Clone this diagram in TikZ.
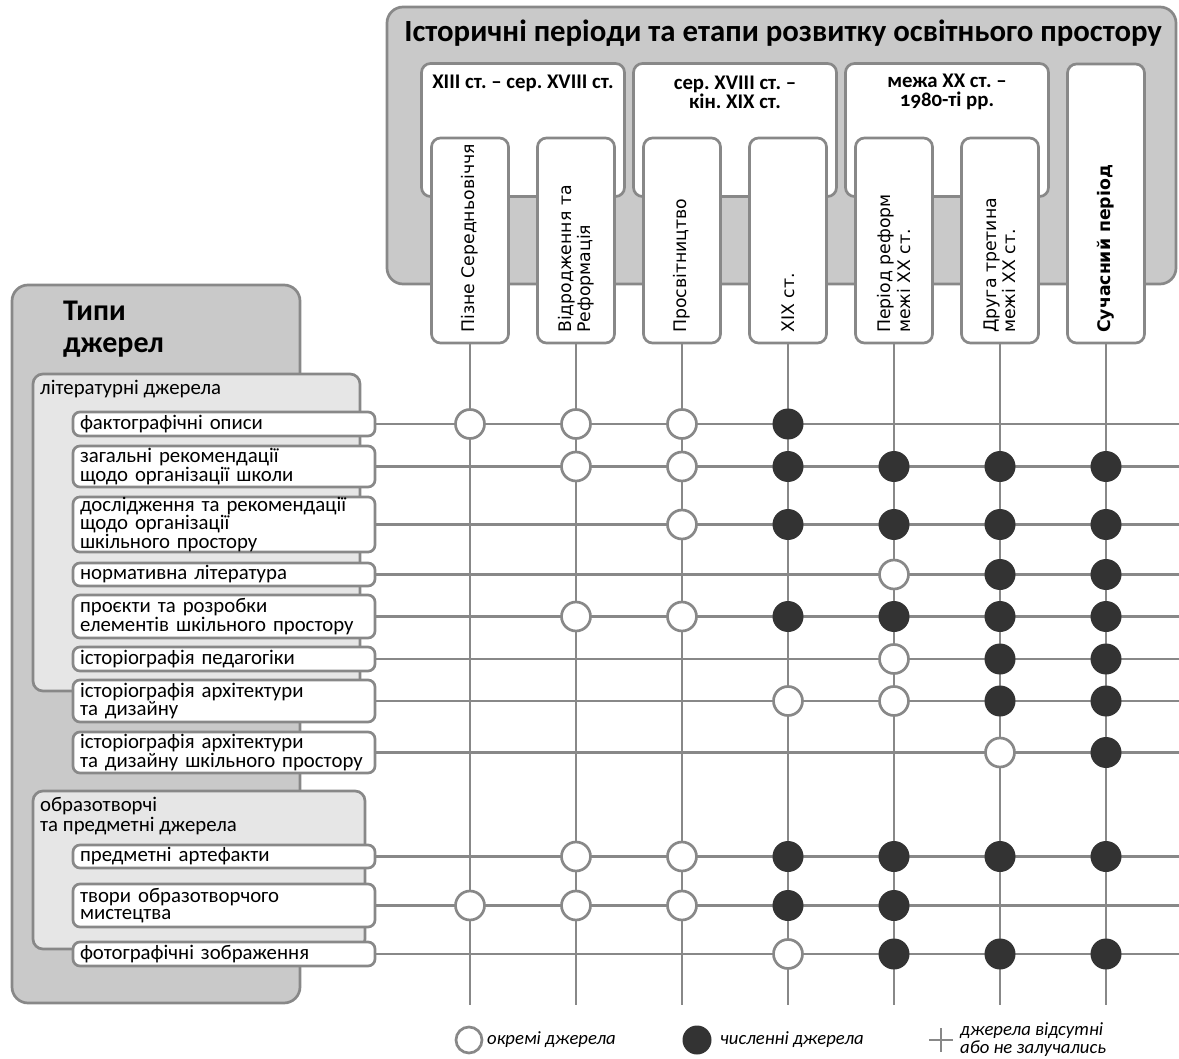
\documentclass[tikz,border=0pt]{standalone}
\usepackage{fontspec}
\setmainfont{Carlito}
\newfontfamily\vfont{DejaVu Sans}
\frenchspacing
\definecolor{lgray}{HTML}{888888}
\definecolor{boxgray}{HTML}{C9C9C9}
\definecolor{lightbox}{HTML}{E6E6E6}
\definecolor{darkdot}{HTML}{333333}
\tikzset{
  ln/.style={draw=lgray, line width=2.7pt},
  bigbox/.style={draw=lgray, line width=2.7pt, fill=boxgray, rounded corners=16pt, inner sep=0pt},
  grpbox/.style={draw=lgray, line width=2.7pt, fill=lightbox, rounded corners=10pt, inner sep=0pt},
  wbox/.style={draw=lgray, line width=2.7pt, fill=white, rounded corners=9pt, inner sep=0pt},
  rowbox/.style={draw=lgray, line width=2.7pt, fill=white, rounded corners=7pt, text width=288pt, inner xsep=7pt, inner ysep=0pt, minimum width=302pt, align=left, font=\fontsize{20.8}{17.5}\selectfont},
  collabel/.style={rotate=90, anchor=west, align=left, inner sep=0pt, font=\vfont\fontsize{17.3}{19.5}\selectfont},
  grplabel/.style={align=center, inner sep=0pt, font=\bfseries\fontsize{20.8}{19}\selectfont},
  opencirc/.style={circle, draw=lgray, line width=2.7pt, fill=white, minimum size=29pt, inner sep=0pt},
  fillcirc/.style={circle, fill=darkdot, minimum size=31pt, inner sep=0pt},
  legtext/.style={anchor=west, align=left, inner sep=0pt, font=\itshape\fontsize{18.7}{18}\selectfont}
}
\begin{document}
\begin{tikzpicture}[x=1pt,y=-1pt]
\useasboundingbox (0,0) rectangle (1179,1059);
% top panel
\node[bigbox, minimum width=789pt, minimum height=277pt] (top) at (781.5,145.5) {};
\node[inner sep=0pt, font=\bfseries\fontsize{30.8}{32}\selectfont] (title) at (783,33) {Історичні періоди та етапи розвитку освітнього простору};
% group boxes
\node[wbox, minimum width=203pt, minimum height=133pt] (g1) at (523,130) {};
\node[wbox, minimum width=203pt, minimum height=133pt] (g2) at (735,130) {};
\node[wbox, minimum width=203pt, minimum height=133pt] (g3) at (947,130) {};
\node[grplabel] (gl1) at (523,83) {XIII ст. – сер. XVIII ст.};
\node[grplabel] (gl2) at (735,92) {сер. XVIII ст. –\\кін. XIX ст.};
\node[grplabel] (gl3) at (947,92) {межа XX ст. –\\\addfontfeatures{Numbers=OldStyle}1980-ті рр.};
% column boxes
\foreach \i in {1,...,6} {
  \node[wbox, minimum width=77pt, minimum height=205pt] (c\i) at ({470+106*(\i-1)},240.5) {};
}
\node[wbox, minimum width=77pt, minimum height=279pt] (c7) at (1106,203.5) {};
\node[collabel] (cl1) at (470,333) {Пізне Середньовіччя};
\node[collabel] (cl2) at (576,333) {Відродження та\\Реформація};
\node[collabel] (cl3) at (682,333) {Просвітництво};
\node[collabel] (cl4) at (788,333) {XIX ст.};
\node[collabel] (cl5) at (894,333) {Період реформ\\межі XX ст.};
\node[collabel] (cl6) at (1000,333) {Друга третина\\межі XX ст.};
\node[collabel, font=\vfont\bfseries\fontsize{17.3}{19.5}\selectfont] (cl7) at (1106,333) {Сучасний період};
% left panel
\node[bigbox, minimum width=288pt, minimum height=718pt] (left) at (156,644) {};
\node[anchor=west, align=left, inner sep=0pt, font=\bfseries\fontsize{30}{32}\selectfont] (ltitle) at (63,329) {Типи\\джерел};
\node[grpbox, minimum width=327pt, minimum height=317pt] (lit) at (196.5,532.5) {};
\node[anchor=west, inner sep=0pt, font=\fontsize{20.8}{17}\selectfont] (littitle) at (40,389) {літературні джерела};
\node[grpbox, minimum width=332pt, minimum height=158pt] (obr) at (199,870) {};
\node[anchor=west, align=left, inner sep=0pt, font=\fontsize{20.8}{20}\selectfont] (obrtitle) at (40,816) {образотворчі\\та предметні джерела};
% rows
\node[rowbox, minimum height=24pt] (r1) at (224,424) {фактографічні описи};
\node[rowbox, minimum height=41pt] (r2) at (224,466.5) {загальні рекомендації\\щодо організації школи};
\node[rowbox, minimum height=55pt] (r3) at (224,524.5) {дослідження та рекомендації\\щодо організації\\шкільного простору};
\node[rowbox, minimum height=23pt] (r4) at (224,574.5) {нормативна література};
\node[rowbox, minimum height=43pt] (r5) at (224,616.5) {проєкти та розробки\\елементів шкільного простору};
\node[rowbox, minimum height=24pt] (r6) at (224,659) {історіографія педагогіки};
\node[rowbox, minimum height=42pt] (r7) at (224,701) {історіографія архітектури\\та дизайну};
\node[rowbox, minimum height=41pt] (r8) at (224,752.5) {історіографія архітектури\\та дизайну шкільного простору};
\node[rowbox, minimum height=23pt] (r9) at (224,856.5) {предметні артефакти};
\node[rowbox, minimum height=43pt] (r10) at (224,905.5) {твори образотворчого\\мистецтва};
\node[rowbox, minimum height=24pt] (r11) at (224,954) {фотографічні зображення};
% connectors
\foreach \i in {1,...,7} {
  \coordinate (b\i) at ({470+106*(\i-1)},1005);
  \draw[ln] (c\i.south) -- (b\i);
}
\foreach \r in {1,...,11} {
  \coordinate (e\r) at (1179,0 |- r\r.east);
  \draw[ln] (r\r.east) -- (e\r -| 1179,0);
}
% markers
\foreach \r/\os/\fs in {1/{1,2,3}/{4}, 2/{2,3}/{4,5,6,7}, 3/{3}/{4,5,6,7}, 4/{5}/{6,7},
  5/{2,3}/{4,5,6,7}, 6/{5}/{6,7}, 7/{4,5}/{6,7}, 8/{6}/{7}, 9/{2,3}/{4,5,6,7},
  10/{1,2,3}/{4,5}, 11/{4}/{5,6,7}} {
  \foreach \c in \os { \node[opencirc] (m\r-\c) at (c\c.south |- r\r.east) {}; }
  \foreach \c in \fs { \node[fillcirc] (m\r-\c) at (c\c.south |- r\r.east) {}; }
}
% legend
\node[opencirc, minimum size=26pt] (lo) at (469,1040) {};
\node[legtext] (lot) at (487,1040) {окремі джерела};
\node[fillcirc, minimum size=29pt] (lf) at (697,1040) {};
\node[legtext] (lft) at (720,1040) {численні джерела};
\coordinate (pl) at (929,1040);
\coordinate (pr) at (953,1040);
\coordinate (pt) at (941,1028);
\coordinate (pb) at (941,1052);
\draw[ln] (pl) -- (pr);
\draw[ln] (pt) -- (pb);
\node[legtext] (lpt) at (960,1040) {джерела відсутні\\або не залучались};
\end{tikzpicture}
\end{document}
